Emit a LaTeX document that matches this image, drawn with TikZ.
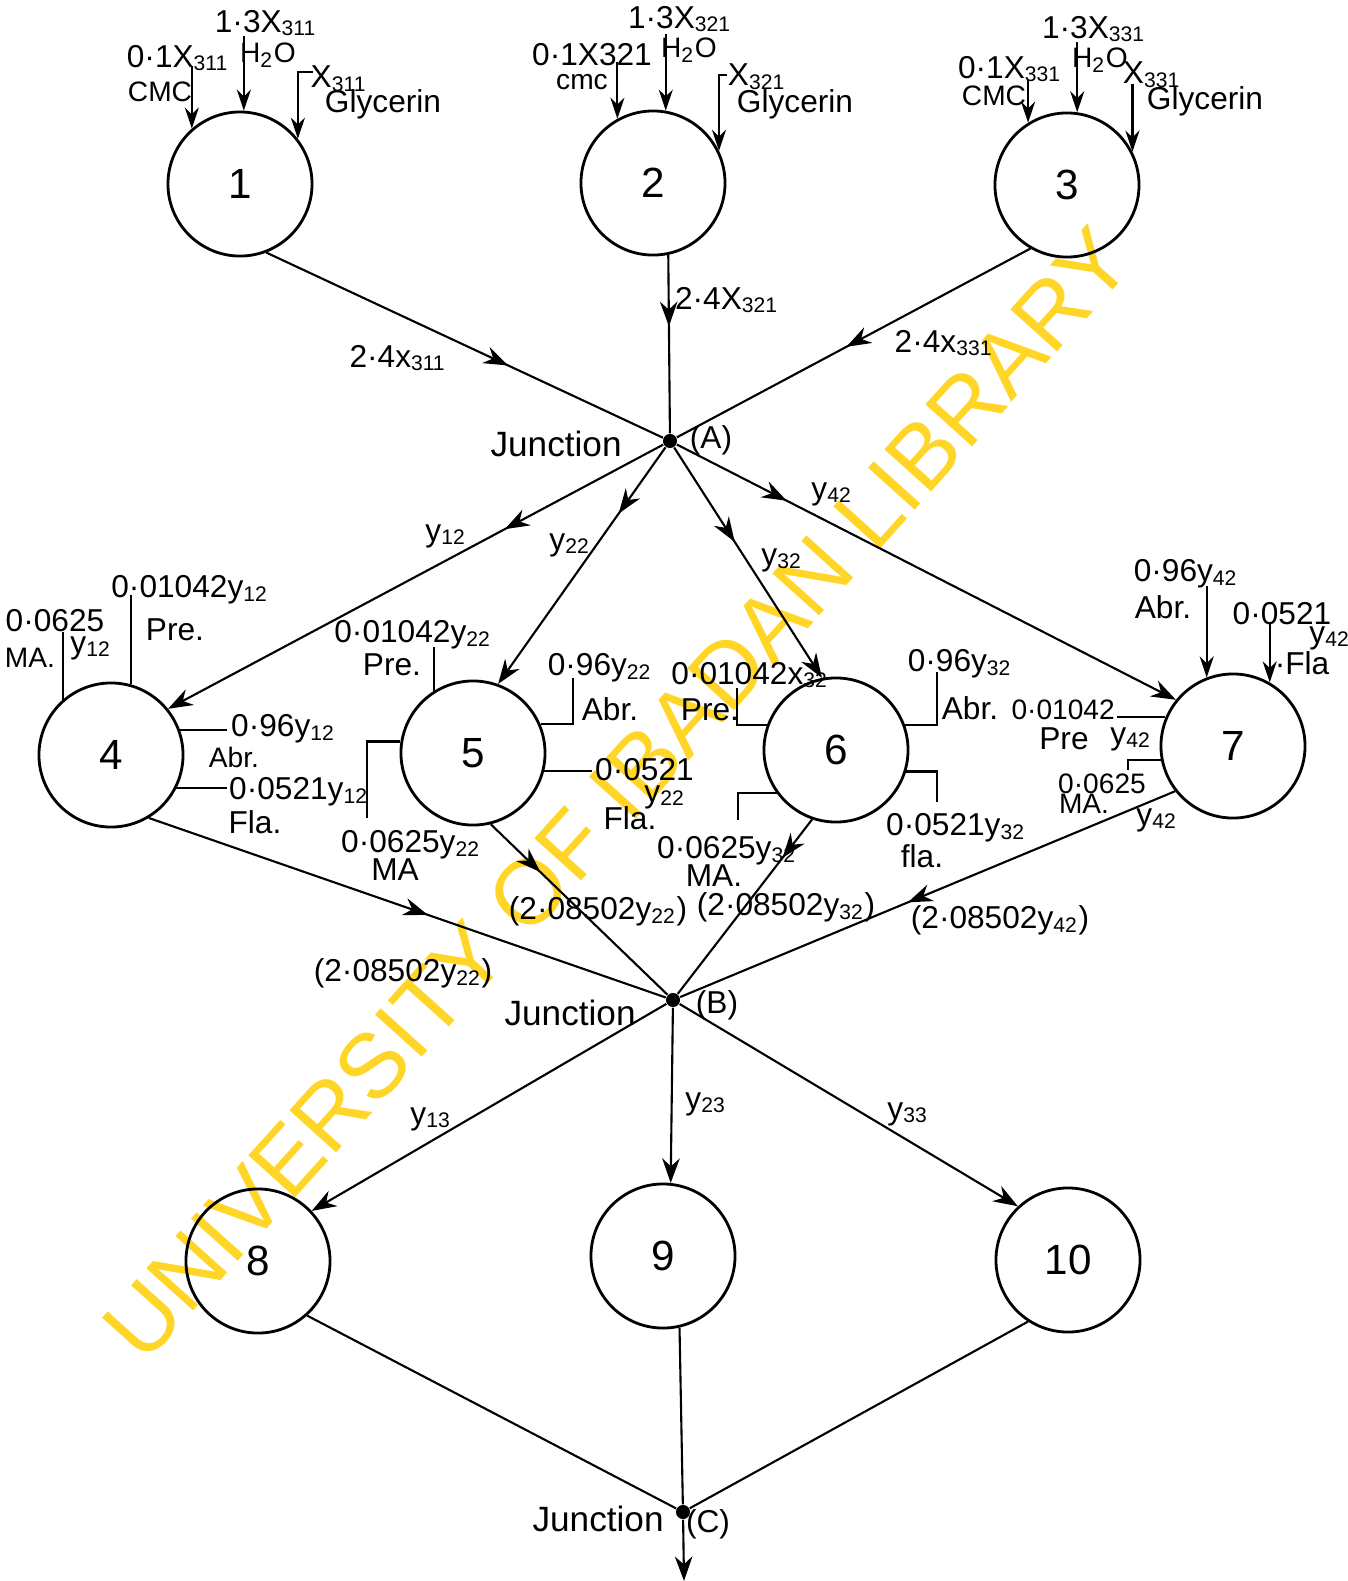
\documentclass[tikz,border=0pt]{standalone}
\usepackage{fontspec}
\setmainfont{Liberation Sans}
\usepackage{tikz}
\usetikzlibrary{calc,arrows.meta,decorations.markings}
\definecolor{wmyellow}{RGB}{255,214,40}
\newcommand{\ix}[1]{\textsubscript{#1}}

\begin{document}
\begin{tikzpicture}[x=0.01cm, y=-0.01cm,
  unit/.style={draw, circle, line width=0.8pt, minimum size=1.44cm, inner sep=0pt, font=\large},
  junc/.style={circle, fill, inner sep=0pt, minimum size=4pt},
  flow/.style={line width=0.6pt},
  toarrow/.style={-{Stealth[length=7pt,width=5pt]}},
  midarrow/.style={postaction={decorate}, decoration={markings,
      mark=at position #1 with {\arrow{Stealth[length=7pt,width=5pt]}}}},
  feed/.style={line width=0.6pt, -{Stealth[length=6pt,width=4pt]}},
  lbl/.style={font=\small, inner sep=1pt},
  tiny/.style={font=\footnotesize, inner sep=1pt}]
  \useasboundingbox (0,0) rectangle (1348,1581);

  % watermark
  \node[rotate=48, text=wmyellow, font=\fontsize{26}{26}\selectfont] (wm) at (617,794) {UNIVERSITY OF IBADAN LIBRARY};

  % units
  \node[unit] (n1) at (240,184) {1};
  \node[unit] (n2) at (653,183) {2};
  \node[unit] (n3) at (1067,185) {3};
  \node[unit] (n4) at (111,755) {4};
  \node[unit] (n5) at (473,753) {5};
  \node[unit] (n6) at (836,750) {6};
  \node[unit] (n7) at (1233,746) {7};
  \node[unit] (n8) at (258,1261) {8};
  \node[unit] (n9) at (663,1256) {9};
  \node[unit] (n10) at (1068,1260) {10};

  % junctions
  \node[junc] (jA) at (670,441) {};
  \node[junc] (jB) at (673,1000) {};
  \node[junc] (jC) at (683,1512) {};
  \coordinate (out) at (684,1581);

  % feeds of 1, 2, 3
  \draw[feed] (n1.131 |- 0,66) -- (n1.131);
  \draw[feed] (n1.87 |- 0,36) -- (n1.87);
  \draw[feed] ($(n1.38 |- 0,72)+(15,0)$) -| (n1.38);
  \draw[feed] (n2.119 |- 0,62) -- (n2.119);
  \draw[feed] (n2.80 |- 0,34) -- (n2.80);
  \draw[feed] ($(n2.26 |- 0,75)+(8,0)$) -| (n2.26);
  \draw[feed] (n3.122 |- 0,80) -- (n3.122);
  \draw[feed] (n3.82 |- 0,42) -- (n3.82);
  \draw[feed] (n3.27 |- 0,84) -- (n3.27);

  \node[lbl] (l1a) at (178,58) {0·1X\ix{311}};
  \node[tiny] (l1b) at (160,92) {CMC};
  \node[lbl] (l1c) at (266,23) {1·3X\ix{311}};
  \node[tiny] (l1d) at (268,55) {H\ix{2}O};
  \node[lbl] (l1e) at (339,79) {X\ix{311}};
  \node[lbl] (l1f) at (383,104) {Glycerin};
  \node[lbl] (l2a) at (592,55) {0·1X321};
  \node[tiny] (l2b) at (582,82) {cmc};
  \node[lbl] (l2c) at (680,19) {1·3X\ix{321}};
  \node[tiny] (l2d) at (689,50) {H\ix{2}O};
  \node[lbl] (l2e) at (757,77) {X\ix{321}};
  \node[lbl] (l2f) at (795,104) {Glycerin};
  \node[lbl] (l3a) at (1010,69) {0·1X\ix{331}};
  \node[tiny] (l3b) at (994,96) {CMC};
  \node[lbl] (l3c) at (1094,29) {1·3X\ix{331}};
  \node[tiny] (l3d) at (1100,60) {H\ix{2}O};
  \node[lbl] (l3e) at (1152,75) {X\ix{331}};
  \node[lbl] (l3f) at (1205,101) {Glycerin};

  % into junction A
  \draw[flow, midarrow=0.61] (n1.-69) -- (jA);
  \draw[flow, midarrow=0.4] (n2.-78) -- (jA);
  \draw[flow, midarrow=0.52] (n3.-120) -- (jA);
  \node[lbl] (lA1) at (398,358) {2·4x\ix{311}};
  \node[lbl] (lA2) at (727,300) {2·4X\ix{321}};
  \node[lbl] (lA3) at (944,343) {2·4x\ix{331}};
  \node[anchor=east] (tA) at (634,444) {Junction};
  \node[lbl] (nA) at (711,440) {(A)};

  % out of junction A
  \draw[flow, toarrow, midarrow=0.32] (jA) -- (n4.39);
  \draw[flow, toarrow, midarrow=0.28] (jA) -- (n5.70);
  \draw[flow, toarrow, midarrow=0.41] (jA) -- (n6.101);
  \draw[flow, toarrow, midarrow=0.22] (jA) -- (n7.141);
  \node[lbl] (y12) at (446,536) {y\ix{12}};
  \node[lbl] (y22) at (570,545) {y\ix{22}};
  \node[lbl] (y32) at (782,560) {y\ix{32}};
  \node[lbl] (y42) at (832,494) {y\ix{42}};

  % unit 4
  \draw[flow] (n4.131) -- (n4.131 |- 0,632);
  \draw[flow] (n4.74) -- (n4.74 |- 0,595);
  \draw[flow] (n4.20) -- (n4.20 -| 227,0);
  \draw[flow] (n4.-27) -- (n4.-27 -| 227,0);
  \node[lbl] (l4a) at (55,621) {0·0625};
  \node[tiny] (l4b) at (30,658) {MA.};
  \node[lbl] (l4c) at (91,648) {y\ix{12}};
  \node[lbl] (l4d) at (190,590) {0·01042y\ix{12}};
  \node[lbl] (l4e) at (175,630) {Pre.};
  \node[lbl, anchor=west] (l4f) at (227,729) {0·96y\ix{12}};
  \node[tiny] (l4g) at (234,757) {Abr.};
  \node[lbl, anchor=west] (l4h) at (225,792) {0·0521y\ix{12}};
  \node[lbl] (l4i) at (255,822) {Fla.};

  % unit 5
  \draw[flow] (n5.122) -- (n5.122 |- 0,647);
  \draw[flow] (n5.23) -| (573,678);
  \draw[flow] (n5.-14) -- (n5.-14 -| 592,0);
  \draw[flow] (n5.171) -| (367,818);
  \node[lbl] (l5a) at (413,635) {0·01042y\ix{22}};
  \node[lbl] (l5b) at (392,665) {Pre.};
  \node[lbl] (l5c) at (600,668) {0·96y\ix{22}};
  \node[lbl] (l5d) at (610,709) {Abr.};
  \node[lbl, anchor=west] (l5e) at (591,770) {0·0521};
  \node[lbl] (l5f) at (665,797) {y\ix{22}};
  \node[lbl] (l5g) at (630,818) {Fla.};
  \node[lbl] (l5h) at (411,845) {0·0625y\ix{22}};
  \node[lbl] (l5i) at (395,870) {MA};

  % unit 6
  \draw[flow] (n6.160) -| (737,688);
  \draw[flow] (n6.20) -| (937,672);
  \draw[flow] (n6.-17) -| (937,802);
  \draw[flow] (n6.-144) -| (738,820);
  \node[lbl] (l6a) at (750,675) {0·01042x\ix{32}};
  \node[lbl] (l6b) at (710,710) {Pre.};
  \node[lbl] (l6c) at (960,664) {0·96y\ix{32}};
  \node[lbl] (l6d) at (970,708) {Abr.};
  \node[lbl] (l6e) at (956,828) {0·0521y\ix{32}};
  \node[lbl] (l6f) at (922,856) {fla.};
  \node[lbl] (l6g) at (727,851) {0·0625y\ix{32}};
  \node[lbl] (l6h) at (714,876) {MA.};

  % unit 7
  \draw[feed] (n7.111 |- 0,586) -- (n7.111);
  \draw[feed] (n7.60 |- 0,622) -- (n7.60);
  \draw[flow] (n7.157) -- (n7.157 -| 1117,0);
  \draw[flow] (n7.-169) -| (1128,770);
  \node[lbl] (l7a) at (1186,574) {0·96y\ix{42}};
  \node[lbl] (l7b) at (1163,607) {Abr.};
  \node[lbl] (l7c) at (1282,614) {0·0521};
  \node[lbl] (l7d) at (1330,638) {y\ix{42}};
  \node[lbl] (l7e) at (1302,663) {·Fla};
  \node[tiny, anchor=east] (l7f) at (1119,710) {0·01042};
  \node[lbl] (l7g) at (1064,739) {Pre};
  \node[lbl] (l7h) at (1131,739) {y\ix{42}};
  \node[tiny] (l7i) at (1102,784) {0·0625};
  \node[tiny] (l7j) at (1084,804) {MA.};
  \node[lbl] (l7k) at (1157,820) {y\ix{42}};

  % into junction B
  \draw[flow, midarrow=0.54] (n4.-59) -- (jB);
  \draw[flow, midarrow=0.28] (n5.-76) -- (jB);
  \draw[flow, midarrow=0.22] (n6.-109) -- (jB);
  \draw[flow, midarrow=0.54] (n7.-142) -- (jB);
  \node[lbl] (lB1) at (403,973) {(2·08502y\ix{22})};
  \node[lbl] (lB2) at (598,911) {(2·08502y\ix{22})};
  \node[lbl] (lB3) at (786,907) {(2·08502y\ix{32})};
  \node[lbl] (lB4) at (1000,920) {(2·08502y\ix{42})};
  \node[anchor=east] (tB) at (648,1013) {Junction};
  \node[lbl] (nB) at (717,1005) {(B)};

  % out of junction B
  \draw[flow, toarrow] (jB) -- (n8.43);
  \draw[flow, toarrow] (jB) -- (n9.84);
  \draw[flow, toarrow] (jB) -- (n10.133);
  \node[lbl] (y13) at (431,1119) {y\ix{13}};
  \node[lbl] (y23) at (706,1104) {y\ix{23}};
  \node[lbl] (y33) at (908,1114) {y\ix{33}};

  % junction C
  \draw[flow] (n8.-48) -- (jC);
  \draw[flow] (n9.-77) -- (jC);
  \draw[flow] (n10.-123) -- (jC);
  \draw[flow, toarrow] (jC) -- (out);
  \node[anchor=east] (tC) at (676,1519) {Junction};
  \node[lbl] (nC) at (708,1524) {(C)};
\end{tikzpicture}
\end{document}
